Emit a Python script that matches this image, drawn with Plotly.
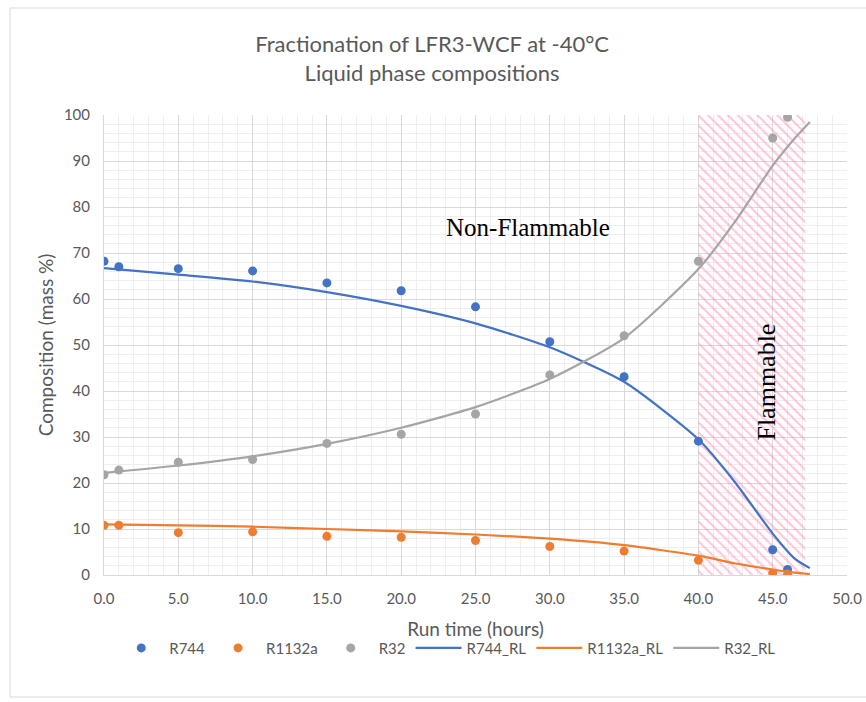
import plotly.graph_objects as go

# ---- data ----
t_pts = [0, 1, 5, 10, 15, 20, 25, 30, 35, 40, 45, 46]
r744 = [68.2, 67.0, 66.6, 66.1, 63.5, 61.8, 58.3, 50.7, 43.1, 29.1, 5.5, 1.2]
r1132a = [10.8, 10.8, 9.2, 9.4, 8.4, 8.2, 7.5, 6.2, 5.2, 3.2, 0.4, 0.2]
r32 = [21.8, 22.8, 24.5, 25.1, 28.6, 30.6, 35.0, 43.5, 52.0, 68.2, 95.0, 99.5]

t_rl = [0, 5, 10, 15, 20, 25, 30, 35, 40, 42.5, 45, 46.5, 47.5]
r744_rl = [66.7, 65.3, 63.8, 61.5, 58.5, 54.7, 49.5, 42.0, 29.5, 20.0, 9.0, 3.5, 1.5]
r1132a_rl = [11.0, 10.8, 10.5, 10.0, 9.5, 8.8, 7.9, 6.5, 4.2, 2.5, 1.2, 0.5, 0.2]
r32_rl = [22.2, 23.8, 25.8, 28.5, 32.0, 36.5, 42.6, 51.5, 66.5, 77.0, 89.0, 95.0, 98.5]

flam_x = [40, 47.2]
x_ticks = [0, 5, 10, 15, 20, 25, 30, 35, 40, 45, 50]

BLUE = "#4472C4"
ORANGE = "#ED7D31"
GRAY = "#A5A5A5"
TXT = "#595959"

fig = go.Figure()

# hatched flammable region
fig.add_trace(go.Scatter(
    x=[flam_x[0], flam_x[1], flam_x[1], flam_x[0], flam_x[0]],
    y=[0, 0, 100, 100, 0],
    mode="lines", line=dict(width=0), fill="toself",
    fillcolor="rgba(0,0,0,0)",
    fillpattern=dict(shape="\\", fgcolor="#FF8FB1", bgcolor="rgba(255,255,255,0)",
                     size=7, solidity=0.3, fillmode="overlay"),
    showlegend=False, hoverinfo="skip"))

for name, ys, c in [("R744", r744, BLUE), ("R1132a", r1132a, ORANGE), ("R32", r32, GRAY)]:
    fig.add_trace(go.Scatter(x=t_pts, y=ys, mode="markers", name=name,
                             marker=dict(color=c, size=9)))
for name, ys, c in [("R744_RL", r744_rl, BLUE), ("R1132a_RL", r1132a_rl, ORANGE), ("R32_RL", r32_rl, GRAY)]:
    fig.add_trace(go.Scatter(x=t_rl, y=ys, mode="lines", name=name,
                             line=dict(color=c, width=2.2, shape="spline", smoothing=0.6)))

fig.add_annotation(x=28.5, y=75.5, text="Non-Flammable", showarrow=False,
                   font=dict(family="Liberation Serif", size=25, color="black"))
fig.add_annotation(x=44.6, y=42, text="Flammable", showarrow=False, textangle=-90,
                   font=dict(family="Liberation Serif", size=26, color="black"))

# outer chart border
fig.add_shape(type="rect", xref="paper", yref="paper",
              x0=(10 - 104) / 743, x1=(870 - 104) / 743,
              y0=(575 - 697) / 460, y1=(575 - 8) / 460,
              line=dict(color="#D9D9D9", width=1), fillcolor="rgba(0,0,0,0)", layer="below")

fig.update_layout(
    width=866, height=702,
    margin=dict(l=104, r=19, t=115, b=127, autoexpand=False),
    paper_bgcolor="white", plot_bgcolor="white",
    font=dict(family="Lato", color=TXT, size=15),
    title=dict(text="Fractionation of LFR3-WCF at -40°C<br>Liquid phase compositions",
               x=0.499, xanchor="center", xref="container", y=1 - 52 / 702, yanchor="middle",
               font=dict(family="Lato", size=22, color=TXT)),
    legend=dict(orientation="h", x=0.462, xanchor="center", y=-0.159, yanchor="middle",
                font=dict(size=15, color=TXT), itemwidth=46, traceorder="normal"),
    xaxis=dict(range=[0, 50], tickvals=x_ticks, ticktext=[f"{v:.1f}" for v in x_ticks],
               showgrid=True, gridcolor="#D9D9D9", gridwidth=1,
               minor=dict(dtick=1, showgrid=True, gridcolor="#EFEFEF", gridwidth=1),
               zeroline=False, showline=True, linecolor="#D9D9D9", automargin=False,
               tickfont=dict(size=15, color=TXT),
               title=dict(text="Run time (hours)", font=dict(size=19, color=TXT), standoff=16),
               ticks="", ticklabelstandoff=10),
    yaxis=dict(range=[0, 100], dtick=10,
               showgrid=True, gridcolor="#D9D9D9", gridwidth=1,
               minor=dict(dtick=2, showgrid=True, gridcolor="#EFEFEF", gridwidth=1),
               zeroline=False, showline=True, linecolor="#D9D9D9", automargin=False,
               tickfont=dict(size=15, color=TXT),
               title=dict(text="Composition (mass %)", font=dict(size=19, color=TXT), standoff=5),
               ticks="", ticklabelstandoff=10),
)

fig.write_html("out.html")
